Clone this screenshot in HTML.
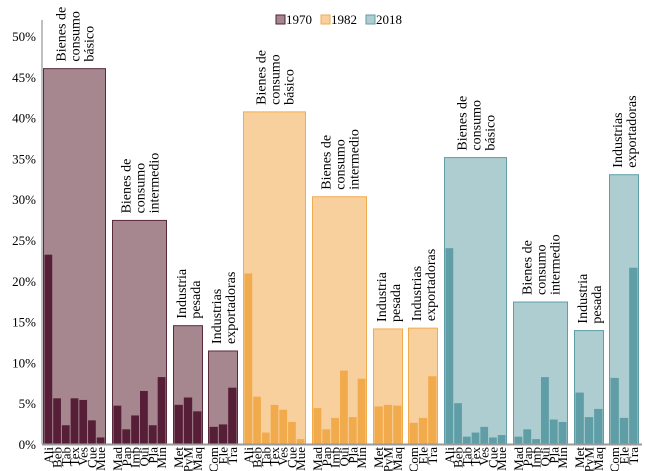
<!DOCTYPE html>
<html><head><meta charset="utf-8"><style>
body{margin:0;background:#fff}
svg{display:block;font-family:"Liberation Serif",serif}
</style></head><body>
<svg id="chart" width="645" height="471" viewBox="0 0 645 471">
<g>
<rect x="276" y="15" width="9" height="9" fill="#a6878f" stroke="#561f37"/>
<text x="286" y="24" font-size="13">1970</text>
<rect x="321" y="15" width="9" height="9" fill="#f8d09e" stroke="#f2ab4c"/>
<text x="331" y="24" font-size="13">1982</text>
<rect x="366" y="15" width="9" height="9" fill="#aecdd0" stroke="#5f9ea6"/>
<text x="376" y="24" font-size="13">2018</text>
</g>
</svg>
<script>
const yTicks=[0,5,10,15,20,25,30,35,40,45,50];
const years=["1970","1982","2018"];
const groupNames=[["Bienes de","consumo","básico"],["Bienes de","consumo","intermedio"],["Industria","pesada"],["Industrias","exportadoras"]];
const subLabels=[["Ali","Beb","Tab","Tex","Ves","Cue","Mue"],["Mad","Pap","Imp","Qui","Pla","Min"],["Met","PyM","Maq"],["Com","Ele","Tra"]];
const totals1970=[46.0,27.4,14.5,11.4];
const totals1982=[40.7,30.3,14.1,14.2];
const totals2018=[35.1,17.4,13.9,33.0];
const sub1970=[[23.2,5.6,2.3,5.6,5.4,2.9,0.8],[4.7,1.8,3.5,6.5,2.3,8.2],[4.8,5.7,4.0],[2.1,2.4,6.9]];
const sub1982=[[20.9,5.8,1.4,4.8,4.2,2.7,0.6],[4.4,1.8,3.2,9.0,3.3,8.0],[4.6,4.8,4.7],[2.6,3.2,8.3]];
const sub2018=[[24.0,5.0,0.9,1.4,2.1,0.8,1.1],[0.9,1.8,0.6,8.2,3.0,2.7],[6.3,3.3,4.3],[8.1,3.2,21.6]];

const svg=document.getElementById('chart');
const NS='http://www.w3.org/2000/svg';
const y0=444,pxPer=8.16;
const y=v=>y0-v*pxPer;
function mk(t,a,p){const e=document.createElementNS(NS,t);for(const k in a)e.setAttribute(k,a[k]);(p||svg).appendChild(e);return e;}
const styles=[{fill:"#a6878f",bar:"#561f37",stroke:"#5a2a3c"},{fill:"#f8d09e",bar:"#f2ab4c",stroke:"#f2ab4c"},{fill:"#aecdd0",bar:"#5f9ea6",stroke:"#5f9ea6"}];
const totals=[totals1970,totals1982,totals2018];
const subs=[sub1970,sub1982,sub2018];
const yearStart=[43,243,444];
const gw=[63,55,30,30];
const gaps=[6,6,5,5];
const yaxis=mk('line',{x1:42,y1:20,x2:42,y2:y0,stroke:'#aaa','stroke-width':1.5});


yTicks.forEach(t=>{const tx=mk('text',{x:36,y:y(t)+5,'text-anchor':'end','font-size':13});tx.textContent=t+'%';

});
years.forEach((yr,yi)=>{
 let x=yearStart[yi];const s=styles[yi];
 groupNames.forEach((gn,gi)=>{
  const w=gw[gi];const tot=totals[yi][gi];
  const box=mk('rect',{x:x+0.5,y:y(tot),width:w-1,height:y0-y(tot),fill:s.fill,stroke:s.stroke,'stroke-width':1});
  
  
  const vals=subs[yi][gi];const bw=(w-2)/vals.length;
  vals.forEach((v,i)=>{
   const b=mk('rect',{x:x+1+i*bw+0.5,y:y(v),width:bw-1,height:y0-y(v),fill:s.bar});
   
   
   const lx=x+1+i*bw+bw/2+4.5;
   const t=mk('text',{x:lx,y:447,'text-anchor':'end','font-size':13,transform:`rotate(-90 ${lx} 447)`});
   t.textContent=subLabels[gi][i];
   
   
  });
  const n=gn.length,lh=14,cx=x+w/2,by=y(tot)-7;
  gn.forEach((line,li)=>{
   const lx=cx-(n-1)*lh/2+li*lh+5;
   const t=mk('text',{x:lx,y:by,'font-size':14,transform:`rotate(-90 ${lx} ${by})`});
   t.textContent=line;
   
   
  });
  x+=w+gaps[gi];
 });
});
const xaxis=mk('line',{x1:42,y1:y0+0.5,x2:642,y2:y0+0.5,stroke:'#999','stroke-width':2});


</script>
</body></html>
